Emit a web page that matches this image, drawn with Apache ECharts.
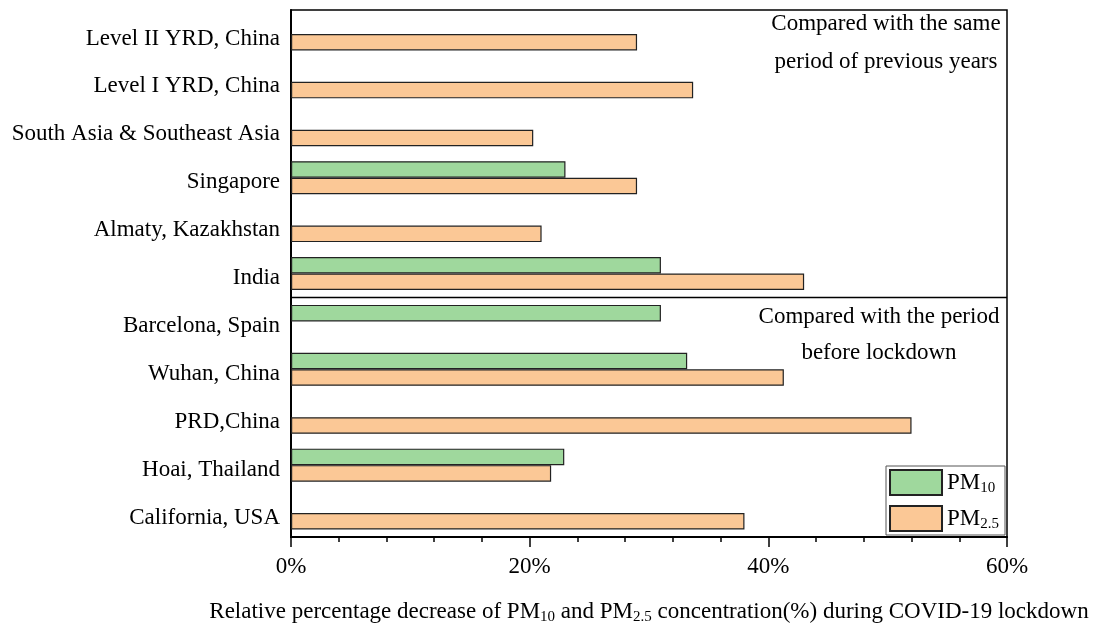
<!DOCTYPE html>
<html>
<head>
<meta charset="utf-8">
<script src="https://cdn.jsdelivr.net/npm/echarts@6/dist/echarts.min.js"></script>
<style>
  html, body { margin: 0; padding: 0; background: #fff; }
  #main { width: 1096px; height: 623px; }
</style>
</head>
<body>
<div id="main"></div>
<script>
// categories, top to bottom
var regions = ['Level II YRD, China', 'Level I YRD, China', 'South Asia & Southeast Asia', 'Singapore',
  'Almaty, Kazakhstan', 'India', 'Barcelona, Spain', 'Wuhan, China', 'PRD,China', 'Hoai, Thailand', 'California, USA'];
// relative decrease (%), null = not reported
var pm10 = [null, null, null, 23.0, null, 31.0, 31.0, 33.2, null, 22.9, null];
var pm25 = [29.0, 33.7, 20.3, 29.0, 21.0, 43.0, null, 41.3, 52.0, 21.8, 38.0];
var xTicks = [0, 20, 40, 60];

var FONT = 'Liberation Serif';
var FS = 23;
var subRich = {
  s: { fontFamily: FONT, fontSize: 15, color: '#000', padding: [11, 0, 0, 0] }
};

var myChart = echarts.init(document.getElementById('main'));

var option = {
  animation: false,
  backgroundColor: '#fff',
  textStyle: { fontFamily: FONT },
  grid: {
    left: 291, right: 89, top: 10, bottom: 86,
    outerBoundsMode: 'none',
    containLabel: false,
    show: true, borderColor: '#000', borderWidth: 1.5
  },
  legend: {
    data: ['PM10', 'PM2.5'],
    orient: 'vertical',
    right: 91, bottom: 88,
    icon: 'rect',
    itemWidth: 52, itemHeight: 25, itemGap: 9,
    padding: [3, 6, 3, 3],
    borderColor: '#555', borderWidth: 1,
    backgroundColor: '#fff',
    formatter: function (name) {
      return name === 'PM10' ? 'PM{s|10}' : 'PM{s|2.5}';
    },
    textStyle: { fontFamily: FONT, fontSize: FS, color: '#000', rich: subRich }
  },
  xAxis: {
    type: 'value',
    min: xTicks[0], max: xTicks[xTicks.length - 1], interval: 20,
    axisLine: { show: true, lineStyle: { color: '#000', width: 2 } },
    axisTick: { show: true, length: 10, lineStyle: { color: '#000', width: 1.5 } },
    minorTick: { show: true, splitNumber: 5, length: 5, lineStyle: { color: '#000', width: 1.5 } },
    splitLine: { show: false },
    axisLabel: {
      formatter: '{value}%', fontFamily: FONT, fontSize: FS, color: '#000', margin: 18
    },
    name: 'Relative percentage decrease of PM{s|10} and PM{s|2.5} concentration(%) during COVID-19 lockdown',
    nameLocation: 'middle',
    nameGap: 62,
    nameTextStyle: { fontFamily: FONT, fontSize: FS, color: '#000', rich: subRich }
  },
  yAxis: {
    type: 'category',
    data: regions,
    inverse: true,
    axisLine: { show: true, lineStyle: { color: '#000', width: 2 } },
    axisTick: { show: false },
    axisLabel: {
      margin: 11,
      formatter: function (v) { return '{a|' + v + '}'; },
      rich: { a: { fontFamily: FONT, fontSize: FS, color: '#000', padding: [9, 0, 0, 0] } }
    }
  },
  series: [
    {
      name: 'PM10', type: 'bar', data: pm10,
      barWidth: 16.5, barGap: '0%',
      itemStyle: { color: '#9fd89d', borderColor: '#222', borderWidth: 1.2 }
    },
    {
      name: 'PM2.5', type: 'bar', data: pm25,
      barWidth: 16.5, barGap: '0%',
      itemStyle: { color: '#fbc896', borderColor: '#222', borderWidth: 1.2 }
    }
  ]
};

myChart.setOption(option);

// divider between the two comparison groups, and group notes
var yA = myChart.convertToPixel({ yAxisIndex: 0 }, 'India');
var yB = myChart.convertToPixel({ yAxisIndex: 0 }, 'Barcelona, Spain');
var x0 = myChart.convertToPixel({ xAxisIndex: 0 }, 0);
var x1 = myChart.convertToPixel({ xAxisIndex: 0 }, 60);
var yMid = (yA + yB) / 2;

myChart.setOption({
  graphic: [
    {
      type: 'line', z: 10,
      shape: { x1: x0, y1: yMid, x2: x1, y2: yMid },
      style: { stroke: '#000', lineWidth: 1.5 }
    },
    {
      type: 'text', z: 10, x: 886, y: 5,
      style: {
        text: 'Compared with the same\nperiod of previous years',
        fontFamily: FONT, fontSize: FS, fill: '#000', align: 'center', lineHeight: 38
      }
    },
    {
      type: 'text', z: 10, x: 879, y: yMid + 1,
      style: {
        text: 'Compared with the period\nbefore lockdown',
        fontFamily: FONT, fontSize: FS, fill: '#000', align: 'center', lineHeight: 36
      }
    }
  ]
});
</script>
</body>
</html>
